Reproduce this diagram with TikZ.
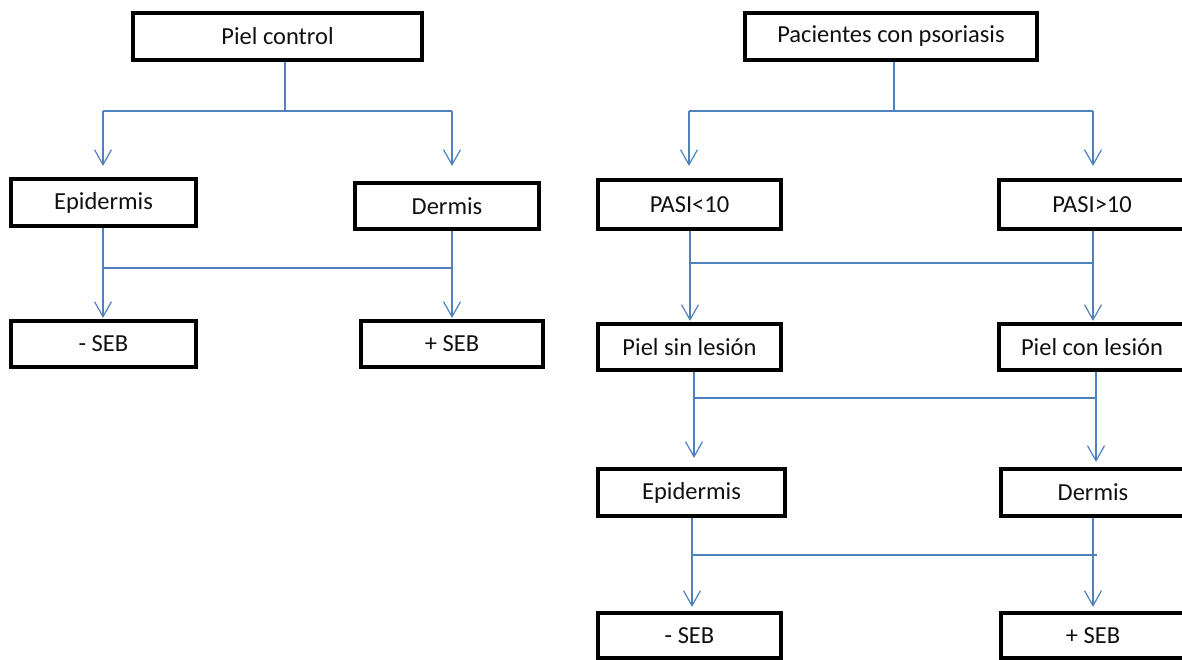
\documentclass[tikz,border=0pt]{standalone}
\usepackage{fontspec}
\setmainfont{Carlito}
\usetikzlibrary{arrows.meta}
\definecolor{linkblue}{HTML}{4F81BD}
\definecolor{txt}{HTML}{111111}
\begin{document}
\begin{tikzpicture}[x=1pt,y=-1pt,
  box/.style={draw=black, line width=4.2pt, rectangle, inner sep=0pt, fill=white,
    font=\fontsize{24.5}{29}\selectfont, text=txt},
  conn/.style={draw=linkblue, line width=1.2pt},
  arr/.style={conn, -{Straight Barb[length=15pt,width=17pt]}}]
\useasboundingbox (0,0) rectangle (1182,660);
\fill[white] (0,0) rectangle (1182,660);
\clip (0,0) rectangle (1182,660);

% left tree
\node[box, minimum width=289pt, minimum height=47pt] (pc) at (277.5,36.5) {Piel control};
\node[box, minimum width=185pt, minimum height=47pt] (le) at (103.5,202.5) {Epidermis};
\node[box, minimum width=184pt, minimum height=46pt] (ld) at (447,206) {Dermis};
\node[box, minimum width=185pt, minimum height=46pt] (lm) at (103.5,344) {- SEB};
\node[box, minimum width=182pt, minimum height=46pt] (lp) at (452,344) {+ SEB};

% right tree
\node[box, minimum width=292pt, minimum height=47pt] (pp) at (891,36.5) {Pacientes con psoriasis};
\node[box, minimum width=183pt, minimum height=49pt] (pa) at (689.5,204.5) {PASI<10};
\node[box, minimum width=186pt, minimum height=49pt] (pb) at (1092,204.5) {PASI>10};
\node[box, minimum width=183pt, minimum height=46pt] (sl) at (689.5,347) {Piel sin lesión};
\node[box, minimum width=186pt, minimum height=46pt] (cl) at (1092,347) {Piel con lesión};
\node[box, minimum width=187pt, minimum height=47pt] (re) at (691.5,492.5) {Epidermis};
\node[box, minimum width=184pt, minimum height=47pt] (rd) at (1093,492.5) {Dermis};
\node[box, minimum width=183pt, minimum height=45pt] (rm) at (689.5,635.5) {- SEB};
\node[box, minimum width=184pt, minimum height=45pt] (rp) at (1093,635.5) {+ SEB};

% junction coordinates
\coordinate (a0) at (285,111);
\coordinate (a1) at (103,111);
\coordinate (a2) at (452,111);
\coordinate (b1) at (103,268);
\coordinate (b2) at (452,268);
\coordinate (c0) at (894,111);
\coordinate (c1) at (689,111);
\coordinate (c2) at (1093,111);
\coordinate (d1) at (690,263);
\coordinate (d2) at (1093,263);
\coordinate (e1) at (694,398);
\coordinate (e2) at (1096,398);
\coordinate (f1) at (692,555);
\coordinate (f2) at (1097,555);
\coordinate (f3) at (1093,555);

% left connectors
\draw[conn] (pc.south -| a0) -- (a0);
\draw[conn] (a1) -- (a2);
\draw[arr, shorten >=11pt] (a1) -- (a1 |- le.north);
\draw[arr, shorten >=15pt] (a2) -- (a2 |- ld.north);
\draw[conn] (b1) -- (b2);
\draw[arr, shorten >=1pt] (le.south -| b1) -- (b1 |- lm.north);
\draw[arr, shorten >=1pt] (ld.south -| b2) -- (b2 |- lp.north);

% right connectors
\draw[conn] (pp.south -| c0) -- (c0);
\draw[conn] (c1) -- (c2);
\draw[arr, shorten >=12pt] (c1) -- (c1 |- pa.north);
\draw[arr, shorten >=12pt] (c2) -- (c2 |- pb.north);
\draw[conn] (d1) -- (d2);
\draw[arr, shorten >=1pt] (pa.south -| d1) -- (d1 |- sl.north);
\draw[arr, shorten >=1pt] (pb.south -| d2) -- (d2 |- cl.north);
\draw[conn] (e1) -- (e2);
\draw[arr, shorten >=9pt] (sl.south -| e1) -- (e1 |- re.north);
\draw[arr, shorten >=5pt] (cl.south -| e2) -- (e2 |- rd.north);
\draw[conn] (f1) -- (f2);
\draw[arr, shorten >=4pt] (re.south -| f1) -- (f1 |- rm.north);
\draw[arr, shorten >=4pt] (rd.south -| f3) -- (f3 |- rp.north);
\end{tikzpicture}
\end{document}
